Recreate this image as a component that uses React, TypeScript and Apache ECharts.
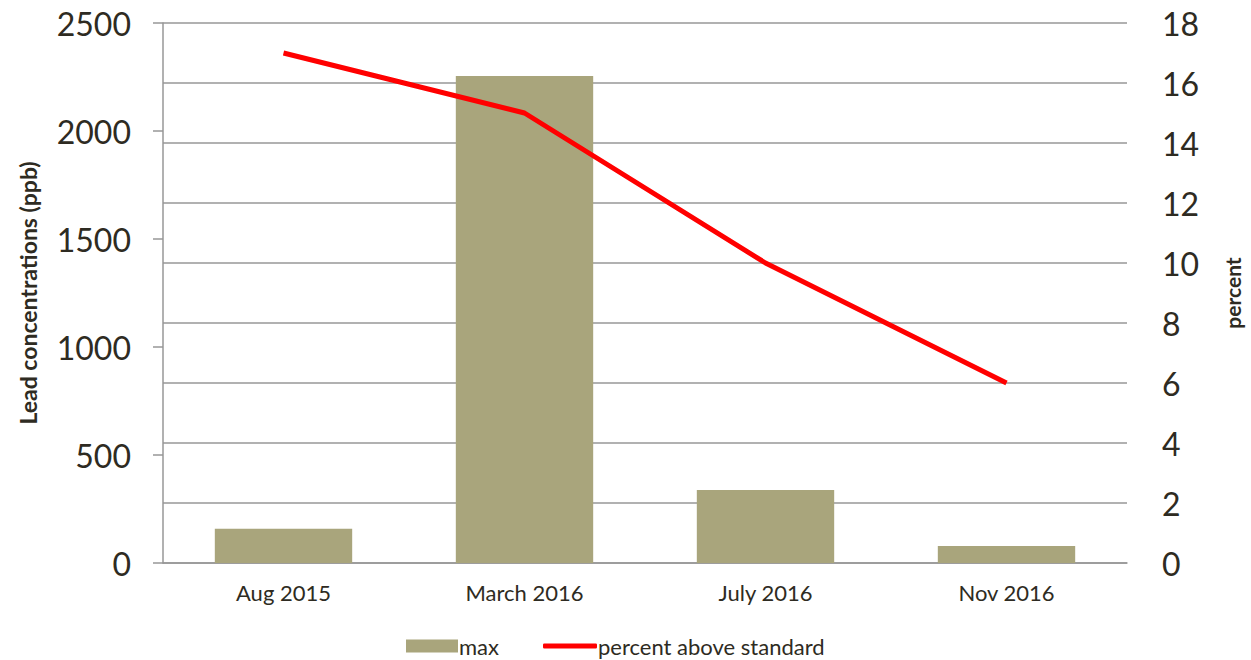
import React, { useEffect, useRef } from "react";
import * as echarts from "echarts";

const categories = ["Aug 2015", "March 2016", "July 2016", "Nov 2016"];
const maxValues = [159, 2255, 338, 79];
const percentValues = [17, 15, 10, 6];
const leftTicks = { min: 0, max: 2500, interval: 500 };
const rightTicks = { min: 0, max: 18, interval: 2 };

const FONT = "Lato, 'Open Sans', sans-serif";
const TEXT = "#2e2b22";
const GRID = "#979797";

export default function App() {
  const ref = useRef<HTMLDivElement>(null);
  useEffect(() => {
    if (!ref.current) return;
    const chart = echarts.init(ref.current, undefined, { renderer: "svg" });
    const legendText = { fontFamily: FONT, fontSize: 22, lineHeight: 22, color: TEXT, padding: [0, 0, 0, -4] };
    chart.setOption({
      animation: false,
      textStyle: { fontFamily: FONT, color: TEXT },
      grid: { left: 163, right: 119, top: 23, bottom: 97 },
      legend: [
        {
          left: 406,
          top: 635,
          padding: 0,
          itemWidth: 52,
          itemHeight: 13,
          textStyle: legendText,
          data: [{ name: "max", icon: "rect" }],
        },
        {
          left: 543,
          top: 635,
          padding: 0,
          itemWidth: 54,
          itemHeight: 5,
          textStyle: legendText,
          data: [{ name: "percent above standard", icon: "roundRect" }],
        },
      ],
      xAxis: {
        type: "category",
        data: categories,
        axisLine: { show: true, lineStyle: { color: GRID, width: 1.5 } },
        axisTick: { show: false },
        axisLabel: { fontSize: 22, color: TEXT, margin: 18, fontFamily: FONT },
      },
      yAxis: [
        {
          type: "value",
          min: leftTicks.min,
          max: leftTicks.max,
          interval: leftTicks.interval,
          name: "Lead concentrations (ppb)",
          nameLocation: "middle",
          nameRotate: 90,
          nameGap: 124,
          nameTextStyle: { fontSize: 23, fontWeight: "bold", color: TEXT, fontFamily: FONT },
          axisLine: { show: true, lineStyle: { color: GRID, width: 1.5 } },
          axisTick: { show: true, inside: false, length: 10, lineStyle: { color: GRID, width: 1.5 } },
          splitLine: { show: false },
          axisLabel: {
            fontSize: 32,
            color: TEXT,
            margin: 32,
            fontFamily: FONT,
            formatter: (v: number) => String(v),
          },
        },
        {
          type: "value",
          min: rightTicks.min,
          max: rightTicks.max,
          interval: rightTicks.interval,
          position: "right",
          name: "percent",
          nameLocation: "middle",
          nameRotate: 90,
          nameGap: 95,
          nameTextStyle: { fontSize: 21, fontWeight: "bold", color: TEXT, fontFamily: FONT },
          axisLine: { show: false },
          axisTick: { show: false },
          splitLine: { show: true, lineStyle: { color: GRID, width: 1.5 } },
          axisLabel: { fontSize: 32, color: TEXT, margin: 35, fontFamily: FONT },
        },
      ],
      series: [
        {
          name: "max",
          type: "bar",
          data: maxValues,
          yAxisIndex: 0,
          barWidth: "57%",
          itemStyle: { color: "#a9a57c" },
        },
        {
          name: "percent above standard",
          type: "line",
          data: percentValues,
          yAxisIndex: 1,
          symbol: "none",
          lineStyle: { color: "#ff0000", width: 5 },
          itemStyle: { color: "#ff0000" },
        },
      ],
    });
    return () => chart.dispose();
  }, []);
  return <div ref={ref} style={{ width: 1251, height: 660, position: "absolute", left: 0, top: 0 }} />;
}
